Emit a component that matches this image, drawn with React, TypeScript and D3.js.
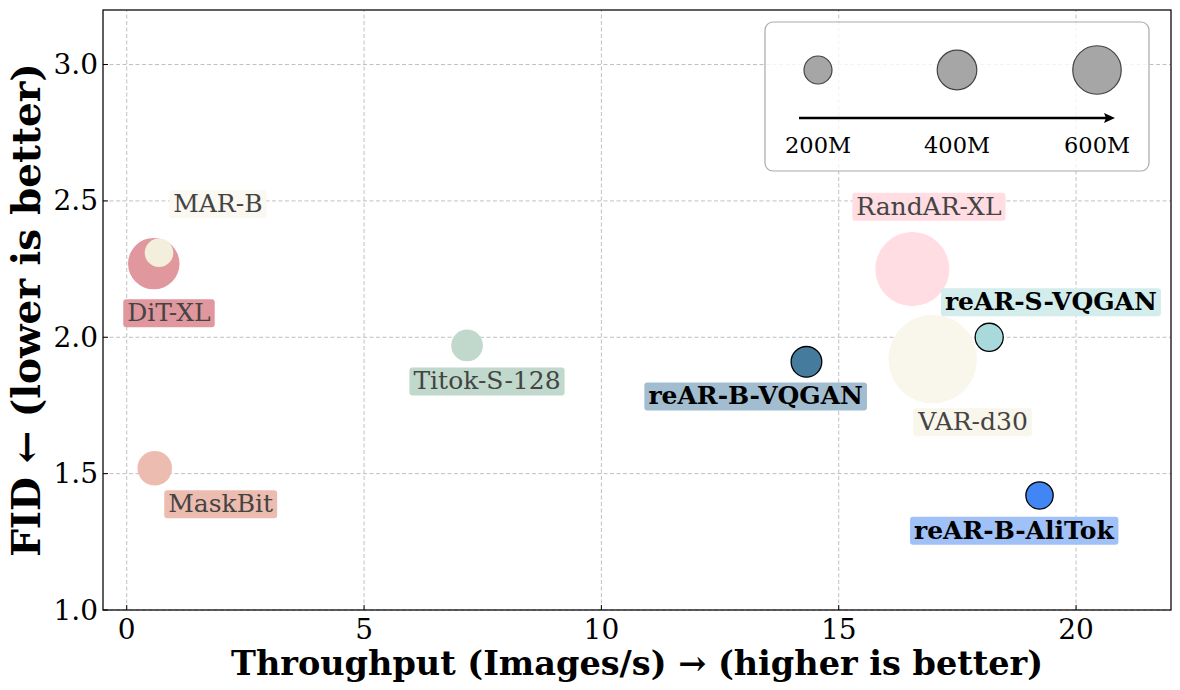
import React, { useEffect, useRef } from "react";
import * as d3 from "d3";

const models = ["DiT-XL", "MAR-B", "MaskBit", "Titok-S-128", "RandAR-XL", "VAR-d30", "reAR-S-VQGAN", "reAR-B-VQGAN", "reAR-B-AliTok"];
const throughput = [0.57, 0.68, 0.59, 7.17, 16.55, 16.98, 18.17, 14.32, 19.23];
const fid = [2.27, 2.31, 1.52, 1.97, 2.25, 1.92, 2.0, 1.91, 1.42];
const paramsM = [675, 208, 305, 256, 1400, 2000, 201, 240, 190];
const fillColors = ["#e0979e", "#f3efdc", "#edbcb0", "#c0d9cc", "#ffdde2", "#f9f6eb", "#a8dadc", "#457b9d", "#4285f4"];
const boxColors = ["#e0979e", "#faf8f0", "#edbcb0", "#c0d9cc", "#ffdde2", "#f9f6eb", "#d3ecec", "#a2bdcf", "#a0c0f8"];
const labelX = [0.89, 1.92, 1.98, 7.59, 16.9, 17.83, 19.47, 13.25, 18.69];
const labelY = [2.09, 2.49, 1.39, 1.84, 2.48, 1.69, 2.13, 1.785, 1.292];
const isOurs = [false, false, false, false, false, false, true, true, true];
const xTicks = [0, 5, 10, 15, 20];
const yTicks = [1.0, 1.5, 2.0, 2.5, 3.0];
const legendSizes = [200, 400, 600];
const legendLabels = ["200M", "400M", "600M"];

const W = 1180;
const H = 690;
const M = { left: 103, right: 9, top: 10, bottom: 80 };
const FONT = "'DejaVu Serif', serif";

export default function App() {
  const ref = useRef<SVGSVGElement>(null);

  useEffect(() => {
    const svg = d3.select(ref.current);
    svg.selectAll("*").remove();

    const x = d3.scaleLinear().domain([-0.5, 22]).range([M.left, W - M.right]);
    const y = d3.scaleLinear().domain([1.0, 3.2]).range([H - M.bottom, M.top]);
    const r = d3.scaleSqrt().domain([0, 200]).range([0, 14]);

    const x0 = M.left, x1 = W - M.right, y0 = H - M.bottom, y1 = M.top;

    svg.append("rect").attr("x", 0).attr("y", 0).attr("width", W).attr("height", H).attr("fill", "#fff");

    // grid
    const grid = svg.append("g");
    xTicks.forEach((t) => {
      grid.append("line").attr("x1", x(t)).attr("x2", x(t)).attr("y1", y0).attr("y2", y1)
        .attr("stroke", "#b0b0b0").attr("stroke-width", 0.8).attr("stroke-dasharray", "4,2.5");
    });
    yTicks.forEach((t) => {
      grid.append("line").attr("x1", x0).attr("x2", x1).attr("y1", y(t)).attr("y2", y(t))
        .attr("stroke", "#b0b0b0").attr("stroke-width", 0.8).attr("stroke-dasharray", "4,2.5");
    });

    // points
    const pts = svg.append("g");
    models.forEach((m, i) => {
      pts.append("circle")
        .attr("cx", x(throughput[i]))
        .attr("cy", y(fid[i]))
        .attr("r", r(paramsM[i]))
        .attr("fill", fillColors[i])
        .attr("stroke", isOurs[i] ? "#000" : "none")
        .attr("stroke-width", isOurs[i] ? 1.3 : 0);
    });

    // labels
    const labs = svg.append("g");
    models.forEach((m, i) => {
      const g = labs.append("g");
      const t = g.append("text")
        .attr("x", x(labelX[i]))
        .attr("y", y(labelY[i]))
        .attr("text-anchor", "middle")
        .attr("dominant-baseline", "central")
        .attr("font-family", FONT)
        .attr("font-size", 25)
        .attr("font-weight", isOurs[i] ? "bold" : "normal")
        .attr("fill", isOurs[i] ? "#000" : "#444")
        .text(m);
      const bb = (t.node() as SVGTextElement).getBBox();
      g.insert("rect", "text")
        .attr("x", bb.x - 4)
        .attr("y", bb.y + 1)
        .attr("width", bb.width + 8)
        .attr("height", bb.height - 1)
        .attr("rx", 3)
        .attr("fill", boxColors[i]);
    });

    // frame
    svg.append("rect").attr("x", x0).attr("y", y1).attr("width", x1 - x0).attr("height", y0 - y1)
      .attr("fill", "none").attr("stroke", "#000").attr("stroke-width", 1.25);

    // ticks (inward)
    xTicks.forEach((t) => {
      svg.append("line").attr("x1", x(t)).attr("x2", x(t)).attr("y1", y0).attr("y2", y0 - 5)
        .attr("stroke", "#000").attr("stroke-width", 1);
      svg.append("text").attr("x", x(t)).attr("y", y0 + 29).attr("text-anchor", "middle")
        .attr("font-family", FONT).attr("font-size", 28).attr("fill", "#000").text(String(t));
    });
    yTicks.forEach((t) => {
      svg.append("line").attr("x1", x0).attr("x2", x0 + 5).attr("y1", y(t)).attr("y2", y(t))
        .attr("stroke", "#000").attr("stroke-width", 1);
      svg.append("text").attr("x", x0 - 5).attr("y", y(t)).attr("text-anchor", "end")
        .attr("dominant-baseline", "central")
        .attr("font-family", FONT).attr("font-size", 28).attr("fill", "#000").text(t.toFixed(1));
    });

    // axis labels
    svg.append("text").attr("x", (x0 + x1) / 2).attr("y", 675).attr("text-anchor", "middle")
      .attr("font-family", FONT).attr("font-size", 33.5).attr("font-weight", "bold")
      .text("Throughput (Images/s) \u2192 (higher is better)");
    svg.append("text").attr("transform", `translate(40,${(y0 + y1) / 2}) rotate(-90)`)
      .attr("text-anchor", "middle")
      .attr("font-family", FONT).attr("font-size", 39).attr("font-weight", "bold")
      .text("FID \u2190 (lower is better)");

    // legend
    const lg = svg.append("g");
    lg.append("rect").attr("x", 765).attr("y", 22).attr("width", 384).attr("height", 149).attr("rx", 8)
      .attr("fill", "#fff").attr("fill-opacity", 0.8).attr("stroke", "#aaa").attr("stroke-width", 1.2);
    const lx = [818, 957, 1097];
    legendSizes.forEach((s, i) => {
      lg.append("circle").attr("cx", lx[i]).attr("cy", 70).attr("r", r(s))
        .attr("fill", "#a6a6a6").attr("stroke", "#444").attr("stroke-width", 1.2);
      lg.append("text").attr("x", lx[i]).attr("y", 153).attr("text-anchor", "middle")
        .attr("font-family", FONT).attr("font-size", 22.5).attr("fill", "#000").text(legendLabels[i]);
    });
    lg.append("line").attr("x1", 799).attr("x2", 1108).attr("y1", 118).attr("y2", 118)
      .attr("stroke", "#000").attr("stroke-width", 2.5);
    lg.append("path").attr("d", "M1115,118 L1104,113 L1106,118 L1104,123 Z").attr("fill", "#000");
  }, []);

  return <svg ref={ref} width={W} height={H} style={{ display: "block", margin: "-8px" }} />;
}
